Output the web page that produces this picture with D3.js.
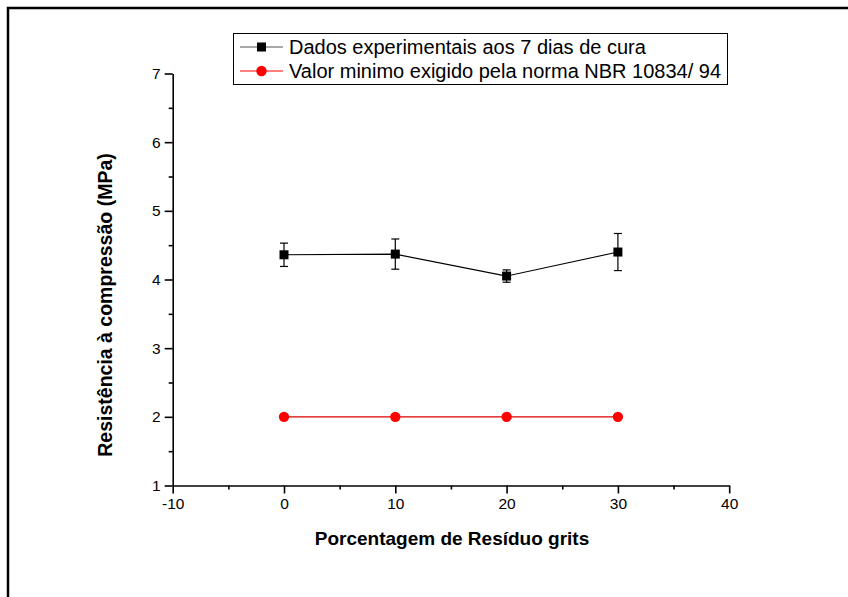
<!DOCTYPE html>
<html>
<head>
<meta charset="utf-8">
<script src="https://cdn.jsdelivr.net/npm/d3@7"></script>
<style>
  html, body { margin: 0; padding: 0; background: #fff; }
  svg { display: block; }
</style>
</head>
<body>
<div id="chart"></div>
<script>
// data
const residuo = [0, 10, 20, 30];
const resistencia7d = [4.36, 4.37, 4.05, 4.40];
const erro7d = [0.17, 0.22, 0.09, 0.27];
const minimoNorma = [2, 2, 2, 2];
const xTicks = [-10, 0, 10, 20, 30, 40];
const yTicks = [1, 2, 3, 4, 5, 6, 7];
const seriesNames = ["Dados experimentais aos 7 dias de cura", "Valor minimo exigido pela norma NBR 10834/ 94"];

const width = 848, height = 597;
const font = "Arial, 'Liberation Sans', sans-serif";

const svg = d3.select("#chart").append("svg")
  .attr("width", width).attr("height", height)
  .style("font-family", font);

// outer frame (top and left only visible)
svg.append("path")
  .attr("d", `M8,${height} V8 H${width}`)
  .attr("fill", "none").attr("stroke", "#000").attr("stroke-width", 2.5);

const x = d3.scaleLinear().domain([-10, 40]).range([172.7, 729.2]);
const y = d3.scaleLinear().domain([1, 7]).range([485.5, 73.5]);
const plain = d => String(d);   // hyphen-minus like the original, not U+2212

// minor ticks
const gx = svg.append("g").attr("transform", `translate(0,${y(1)})`);
gx.call(d3.axisBottom(x).tickValues(d3.range(-5, 40, 10)).tickSize(4).tickFormat(""))
  .call(g => g.select(".domain").remove());
gx.append("g").call(d3.axisBottom(x).tickValues(xTicks).tickSize(8).tickSizeOuter(0).tickPadding(4).tickFormat(plain));
gx.selectAll("line, path").attr("stroke", "#000").attr("stroke-width", 1.6);
gx.selectAll("text").attr("font-size", 15.5).attr("font-family", font).attr("fill", "#000");

const gy = svg.append("g").attr("transform", `translate(${x(-10)},0)`);
gy.call(d3.axisLeft(y).tickValues(d3.range(1.5, 7, 1)).tickSize(4).tickFormat(""))
  .call(g => g.select(".domain").remove());
gy.append("g").call(d3.axisLeft(y).tickValues(yTicks).tickSize(8).tickSizeOuter(0).tickPadding(4).tickFormat(plain));
gy.selectAll("line, path").attr("stroke", "#000").attr("stroke-width", 1.6);
gy.selectAll("text").attr("font-size", 15.5).attr("font-family", font).attr("fill", "#000");

// axis titles
svg.append("text")
  .attr("x", 452).attr("y", 545)
  .attr("text-anchor", "middle")
  .attr("font-size", 19).attr("font-weight", "bold")
  .text("Porcentagem de Resíduo grits");

svg.append("text")
  .attr("transform", `translate(112,${305}) rotate(-90)`)
  .attr("text-anchor", "middle")
  .attr("font-size", 19.5).attr("font-weight", "bold")
  .text("Resistência à compressão (MPa)");

// series
const pts1 = residuo.map((r, i) => ({ x: r, y: resistencia7d[i], e: erro7d[i] }));
const pts2 = residuo.map((r, i) => ({ x: r, y: minimoNorma[i] }));
const line = d3.line().x(d => x(d.x)).y(d => y(d.y));

svg.append("path").datum(pts2).attr("d", line)
  .attr("fill", "none").attr("stroke", "#d00").attr("stroke-width", 1.1);
svg.append("g").selectAll("circle").data(pts2).join("circle")
  .attr("cx", d => x(d.x)).attr("cy", d => y(d.y)).attr("r", 5.2)
  .attr("fill", "#f00");

svg.append("path").datum(pts1).attr("d", line)
  .attr("fill", "none").attr("stroke", "#000").attr("stroke-width", 1.1);

const eb = svg.append("g").attr("stroke", "#000").attr("stroke-width", 1.2);
pts1.forEach(d => {
  const cx = x(d.x);
  eb.append("line").attr("x1", cx).attr("x2", cx).attr("y1", y(d.y + d.e)).attr("y2", y(d.y - d.e));
  eb.append("line").attr("x1", cx - 4).attr("x2", cx + 4).attr("y1", y(d.y + d.e)).attr("y2", y(d.y + d.e));
  eb.append("line").attr("x1", cx - 4).attr("x2", cx + 4).attr("y1", y(d.y - d.e)).attr("y2", y(d.y - d.e));
});
svg.append("g").selectAll("rect").data(pts1).join("rect")
  .attr("x", d => x(d.x) - 4.5).attr("y", d => y(d.y) - 4.5)
  .attr("width", 9).attr("height", 9).attr("fill", "#000");

// legend
const lg = svg.append("g");
lg.append("rect").attr("x", 233.5).attr("y", 33.5).attr("width", 494).attr("height", 51)
  .attr("fill", "#fff").attr("stroke", "#000").attr("stroke-width", 1);
const legendRows = [
  { name: seriesNames[0], color: "#555", mark: "square", cy: 47 },
  { name: seriesNames[1], color: "#f00", mark: "circle", cy: 71 }
];
legendRows.forEach(r => {
  lg.append("line").attr("x1", 240).attr("x2", 283).attr("y1", r.cy).attr("y2", r.cy)
    .attr("stroke", r.color).attr("stroke-width", 1.2);
  if (r.mark === "square") {
    lg.append("rect").attr("x", 257).attr("y", r.cy - 4.5).attr("width", 9).attr("height", 9).attr("fill", "#000");
  } else {
    lg.append("circle").attr("cx", 261.5).attr("cy", r.cy).attr("r", 5.2).attr("fill", "#f00");
  }
  lg.append("text").attr("x", 289).attr("y", r.cy).attr("dy", "0.36em")
    .attr("font-size", 20).text(r.name);
});
</script>
</body>
</html>
